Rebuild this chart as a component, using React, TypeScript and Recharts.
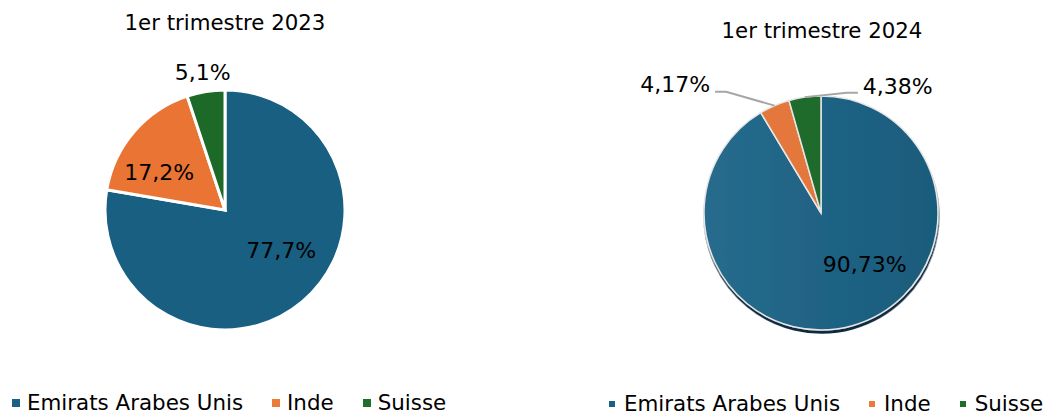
import { PieChart, Pie, Cell } from "recharts";

// Répartition des pays, 1er trimestre
const countries = ["Emirats Arabes Unis", "Inde", "Suisse"];
const share2023 = [77.7, 17.2, 5.1];
const share2024 = [90.73, 4.17, 4.38];

const COLORS_2023 = ["#185f81", "#ea7433", "#1c6928"];
const COLORS_2024 = ["url(#blueGrad)", "#e4773b", "#1f6b2c"];
const LEGEND_COLORS = ["#1a6184", "#ec7a3a", "#1f6f2c"];

const FONT = "'DejaVu Sans', Verdana, sans-serif";
const RAD = Math.PI / 180;

type LabelCfg = { shift: number; r: number; leader?: "left" | "right"; dy?: number };

// where each value label sits (angle shift from the slice middle, radius as a factor of R)
const LABELS_2023: LabelCfg[] = [
	{ shift: 13.8, r: 0.58 },
	{ shift: 11, r: 0.63 },
	{ shift: 0, r: 1.16 },
];
const LABELS_2024: LabelCfg[] = [
	{ shift: 24.7, r: 0.58 },
	{ shift: 17.7, r: 1.376, leader: "left", dy: -7 },
	{ shift: -25, r: 1.074, leader: "right", dy: -6 },
];

const fmt = (v: number) => String(v).replace(".", ",") + "%";

function makeLabel(cfg: LabelCfg[]) {
	return (props: any) => {
		const { cx, cy, midAngle, outerRadius, index, value } = props;
		const c = cfg[index];
		const a = (midAngle + c.shift) * RAD;
		const x = cx + outerRadius * c.r * Math.cos(a);
		const y = cy - outerRadius * c.r * Math.sin(a);
		if (!c.leader) {
			return (
				<text x={x} y={y} textAnchor="middle" dominantBaseline="central" fill="#000" fontSize={22} fontFamily={FONT}>
					{fmt(value)}
				</text>
			);
		}
		const m = midAngle * RAD;
		const sx = cx + outerRadius * Math.cos(m);
		const sy = cy - outerRadius * Math.sin(m);
		const dir = c.leader === "left" ? -1 : 1;
		const ex = x - dir * 11;
		return (
			<g>
				<polyline points={`${sx},${sy} ${ex},${y} ${x},${y}`} fill="none" stroke="#a6a6a6" strokeWidth={2} />
				<text
					x={x + dir * 5}
					y={y + (c.dy ?? 0)}
					textAnchor={dir < 0 ? "end" : "start"}
					dominantBaseline="central"
					fill="#000"
					fontSize={22}
					fontFamily={FONT}
				>
					{fmt(value)}
				</text>
			</g>
		);
	};
}

function LegendRow({ left, top, square, gap }: { left: number; top: number; square: number; gap: number }) {
	return (
		<div style={{ position: "absolute", left, top, display: "flex", alignItems: "center", gap: 29, whiteSpace: "nowrap", fontSize: 21.4, lineHeight: "21px" }}>
			{countries.map((name, i) => (
				<span key={name} style={{ display: "flex", alignItems: "center", gap }}>
					<span style={{ width: square, height: square, background: LEGEND_COLORS[i], display: "inline-block" }} />
					{name}
				</span>
			))}
		</div>
	);
}

export default function App() {
	const data2023 = countries.map((name, i) => ({ name, value: share2023[i] }));
	const data2024 = countries.map((name, i) => ({ name, value: share2024[i] }));

	return (
		<div style={{ position: "absolute", left: 0, top: 0, width: 1045, height: 411, overflow: "hidden", background: "#fff", fontFamily: FONT, color: "#000" }}>
			<div style={{ position: "absolute", left: 0, width: 450, top: 12, textAlign: "center", fontSize: 21.3, lineHeight: "21px" }}>
				1er trimestre 2023
			</div>
			<div style={{ position: "absolute", left: 597, width: 450, top: 20, textAlign: "center", fontSize: 21.3, lineHeight: "21px" }}>
				1er trimestre 2024
			</div>

			<div style={{ position: "absolute", left: 0, top: 0 }}>
				<PieChart width={520} height={411} margin={{ top: 0, right: 0, bottom: 0, left: 0 }}>
					<Pie
						data={data2023}
						dataKey="value"
						nameKey="name"
						cx={225}
						cy={210}
						outerRadius={120}
						startAngle={90}
						endAngle={-270}
						stroke="#fff"
						strokeWidth={3}
						labelLine={false}
						label={makeLabel(LABELS_2023)}
						isAnimationActive={false}
					>
						{data2023.map((_, i) => (
							<Cell key={i} fill={COLORS_2023[i]} />
						))}
					</Pie>
				</PieChart>
			</div>

			<div style={{ position: "absolute", left: 520, top: 0 }}>
				<PieChart width={525} height={411} margin={{ top: 0, right: 0, bottom: 0, left: 0 }}>
					<defs>
						<linearGradient id="blueGrad" x1="0" y1="0" x2="1" y2="0">
							<stop offset="0%" stopColor="#266b8d" />
							<stop offset="100%" stopColor="#195b7c" />
						</linearGradient>
						<filter id="pieShadow" x="-10%" y="-10%" width="120%" height="125%">
							<feDropShadow dx={0.5} dy={3} stdDeviation={0.5} floodColor="#0b2a3f" floodOpacity={1} />
						</filter>
					</defs>
					<Pie
						data={data2024}
						dataKey="value"
						nameKey="name"
						cx={301}
						cy={213}
						outerRadius={117}
						startAngle={90}
						endAngle={-270}
						stroke="#e6e6e6"
						strokeWidth={1.5}
						labelLine={false}
						label={makeLabel(LABELS_2024)}
						isAnimationActive={false}
					>
						{data2024.map((_, i) => (
							<Cell key={i} fill={COLORS_2024[i]} filter={i === 0 ? "url(#pieShadow)" : undefined} />
						))}
					</Pie>
				</PieChart>
			</div>

			<LegendRow left={12} top={392} square={8} gap={7} />
			<LegendRow left={609} top={393} square={6} gap={9} />
		</div>
	);
}
